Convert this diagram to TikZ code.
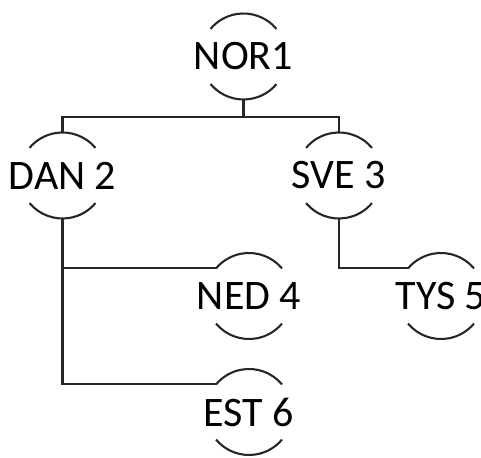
\documentclass[tikz,border=0pt]{standalone}
\usepackage{fontspec}
\setmainfont{Carlito}
\begin{document}
\begin{tikzpicture}[x=1pt,y=1pt,
  country/.style={inner sep=0pt,font=\fontsize{42}{46}\selectfont,text=black},
  arcline/.style={line width=2.1pt,draw=black!85},
  conn/.style={line width=2.1pt,draw=black!85}]
\useasboundingbox (0,0) rectangle (481,457);
\node[country] (nor) at (243.5,400.5) {NOR1};
\node[country] (dan) at (62.5,281.5) {DAN 2};
\node[country] (sve) at (339,281.5) {SVE 3};
\node[country] (ned) at (249,161) {NED 4};
\node[country] (tys) at (441,161) {TYS 5};
\node[country] (est) at (249,45) {EST 6};
\foreach \n in {nor,dan,sve,ned,tys,est}{
  \coordinate (\n-top) at ([yshift=43pt]\n.center);
  \coordinate (\n-bot) at ([yshift=-43pt]\n.center);
  \coordinate (\n-nw) at ([shift={(140:43pt)}]\n.center);
  \draw[arcline] ([shift={(40:43pt)}]\n.center) arc[start angle=40,end angle=140,radius=43pt];
  \draw[arcline] ([shift={(220:43pt)}]\n.center) arc[start angle=220,end angle=320,radius=43pt];
}
\coordinate (bus) at (0,340);
\draw[conn] (nor-bot) -- (nor-bot |- bus);
\draw[conn] (dan-top) |- (sve-top |- bus) -- (sve-top);
\draw[conn] (dan-bot) |- (ned-nw);
\draw[conn] (dan-bot) |- (est-nw);
\draw[conn] (sve-bot) |- (tys-nw);
\end{tikzpicture}
\end{document}
